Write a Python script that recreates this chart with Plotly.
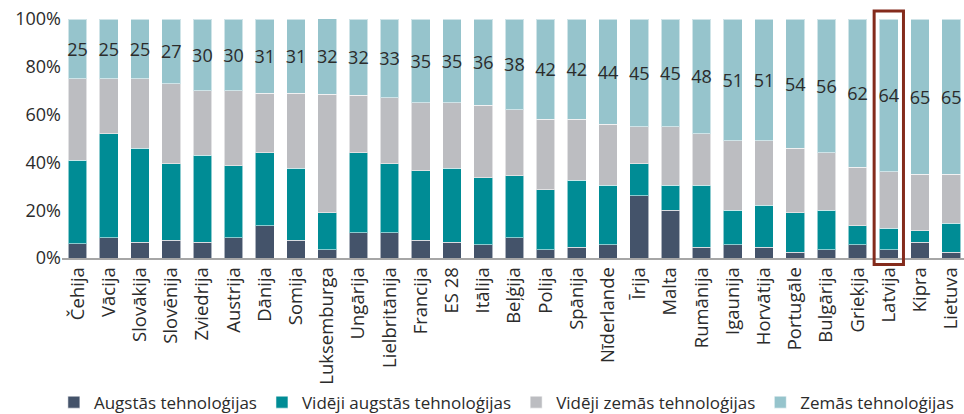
import plotly.graph_objects as go

countries = ["Čehija", "Vācija", "Slovākija", "Slovēnija", "Zviedrija", "Austrija", "Dānija",
             "Somija", "Luksemburga", "Ungārija", "Lielbritānija", "Francija", "ES 28", "Itālija",
             "Beļģija", "Polija", "Spānija", "Nīderlande", "Īrija", "Malta", "Rumānija", "Igaunija",
             "Horvātija", "Portugāle", "Bulgārija", "Grieķija", "Latvija", "Kipra", "Lietuva"]

augstas = [6, 8.5, 6.5, 7.5, 6.5, 8.5, 13.5, 7.5, 3.5, 10.5, 10.5, 7.5, 6.5, 5.5,
           8.5, 3.5, 4.5, 5.5, 26, 20, 4.5, 5.5, 4.5, 2.5, 3.5, 5.5, 3.5, 6.5, 2.5]
videji_augstas = [35, 43.5, 39.5, 32, 36.5, 30, 30.5, 30, 15.5, 33.5, 29, 29, 31, 28,
                  26, 25, 28, 25, 13.5, 10.5, 26, 14.5, 17.5, 16.5, 16.5, 8, 9, 5, 12]
videji_zemas = [34, 23, 29, 33.5, 27, 31.5, 25, 31.5, 49.5, 24, 27.5, 28.5, 27.5, 30.5,
                27.5, 29.5, 25.5, 25.5, 15.5, 24.5, 21.5, 29, 27, 27, 24, 24.5, 23.5, 23.5, 20.5]
zemas = [25, 25, 25, 27, 30, 30, 31, 31, 32, 32, 33, 35, 35, 36,
         38, 42, 42, 44, 45, 45, 48, 51, 51, 54, 56, 62, 64, 65, 65]

series_names = ["Augstās tehnoloģijas", "Vidēji augstās tehnoloģijas",
                "Vidēji zemās tehnoloģijas", "Zemās tehnoloģijas"]
series_values = [augstas, videji_augstas, videji_zemas, zemas]
colors = ["#44536A", "#008C95", "#BCBDC1", "#96C4CC"]

highlight = "Latvija"

FONT = "Open Sans"
TXT = "#2B2B2B"

fig = go.Figure()
for name, vals, col in zip(series_names, series_values, colors):
    is_top = name == "Zemās tehnoloģijas"
    fig.add_trace(go.Bar(
        x=countries, y=vals, name=name,
        marker=dict(color=col, line=dict(color="rgba(255,255,255,0.55)", width=1)),
        text=[f"{v:g}" for v in vals] if is_top else None,
        textposition="inside" if is_top else "none",
        insidetextanchor="middle",
        constraintext="none",
        textangle=0,
        textfont=dict(family=FONT, size=18, color=TXT),
        hoverinfo="x+y+name",
    ))

idx = countries.index(highlight)
fig.add_shape(type="rect", xref="x", yref="paper",
              x0=idx - 0.47, x1=idx + 0.47, y0=-0.027, y1=1.033,
              line=dict(color="#842B1C", width=3), fillcolor="rgba(0,0,0,0)")

fig.update_layout(
    template="none",
    barmode="stack",
    bargap=0.40,
    width=964, height=414,
    margin=dict(l=62, r=0, t=19, b=156, autoexpand=False),
    paper_bgcolor="white", plot_bgcolor="white",
    font=dict(family=FONT, size=17, color=TXT),
    showlegend=True,
    legend=dict(orientation="h", x=-0.009, xanchor="left", y=-0.605, yanchor="middle",
                font=dict(family=FONT, size=17, color=TXT), traceorder="normal",
                itemclick=False),
    xaxis=dict(tickangle=-90, showline=True, linecolor="#A6A6A6", linewidth=1.5,
               range=[-0.5, 28.41], automargin=False,
               ticks="", showgrid=False, tickfont=dict(family=FONT, size=18.5, color=TXT)),
    yaxis=dict(range=[0, 100], tickvals=[0, 20, 40, 60, 80, 100],
               ticktext=["0%", "20%", "40%", "60%", "80%", "100%"], automargin=False,
               showgrid=False, zeroline=False, showline=False, ticks="",
               tickfont=dict(family=FONT, size=18, color=TXT)),
)

fig.write_html("out.html", config={"displayModeBar": False},
               post_script="document.body.style.margin='0';document.body.style.overflow='hidden';")
